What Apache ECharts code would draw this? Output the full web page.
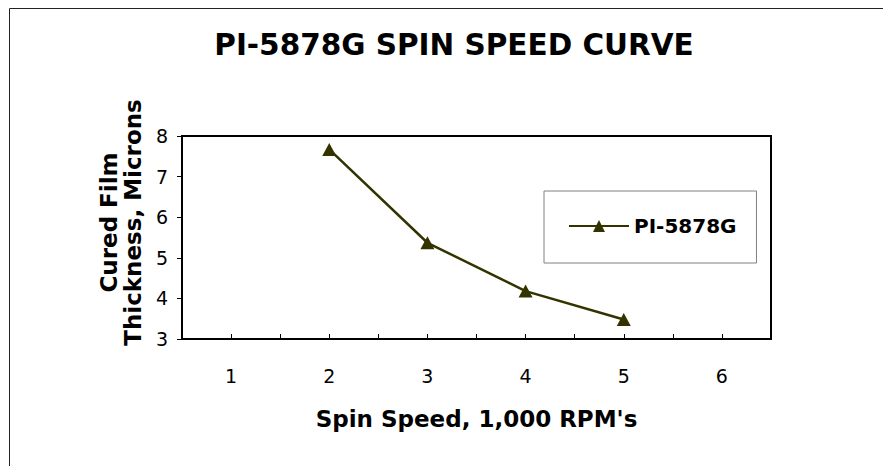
<!DOCTYPE html>
<html><head><meta charset="utf-8">
<script src="https://cdn.jsdelivr.net/npm/echarts@6/dist/echarts.min.js"></script>
<style>html,body{margin:0;padding:0;background:#fff}#c{width:883px;height:466px}</style>
</head><body><div id="c"></div>
<script>
const titleText = 'PI-5878G SPIN SPEED CURVE';
const seriesName = 'PI-5878G';
const spinSpeed = [2, 3, 4, 5];
const thickness = [7.67, 5.37, 4.18, 3.48];
const xTickLabels = ['1', '2', '3', '4', '5', '6'];
const yTickLabels = ['3', '4', '5', '6', '7', '8'];
const xAxisTitle = "Spin Speed, 1,000 RPM's";
const yAxisTitle = 'Cured Film\nThickness, Microns';

const FONT = 'DejaVu Sans';
const chart = echarts.init(document.getElementById('c'), null, {renderer: 'svg'});
chart.setOption({
  animation: false,
  backgroundColor: '#fff',
  title: {
    text: titleText, left: 454, top: 30, textAlign: 'center', padding: 0,
    textStyle: {fontFamily: FONT, fontWeight: 'bold', fontSize: 29.5, color: '#000'}
  },
  graphic: [{
    type: 'rect', z: -10, silent: true,
    shape: {x: 9.5, y: 8.5, width: 900, height: 500},
    style: {fill: 'none', stroke: '#222', lineWidth: 1}
  }],
  grid: {
    left: 182, right: 112, top: 136, bottom: 127,
    show: true, borderColor: '#000', borderWidth: 2, backgroundColor: 'transparent'
  },
  legend: {
    data: [seriesName], left: 544, top: 191,
    padding: [25, 20, 27, 24], itemWidth: 60, itemHeight: 15,
    borderColor: '#808080', borderWidth: 1, backgroundColor: '#fff',
    textStyle: {fontFamily: FONT, fontWeight: 'bold', fontSize: 20, color: '#000'}
  },
  xAxis: {
    type: 'value', min: 0.5, max: 6.5, interval: 0.5,
    name: xAxisTitle, nameLocation: 'middle', nameGap: 68,
    nameTextStyle: {fontFamily: FONT, fontWeight: 'bold', fontSize: 23, color: '#000'},
    axisLine: {show: true, lineStyle: {color: '#000', width: 2}},
    axisTick: {show: true, inside: true, length: 5, lineStyle: {color: '#000', width: 1}},
    axisLabel: {
      margin: 27, fontFamily: FONT, fontSize: 19, color: '#000',
      formatter: v => Number.isInteger(v) ? xTickLabels[v - 1] : ''
    },
    splitLine: {show: false}
  },
  yAxis: {
    type: 'value', min: 3, max: 8, interval: 1,
    name: yAxisTitle, nameLocation: 'middle', nameGap: 35,
    nameTextStyle: {fontFamily: FONT, fontWeight: 'bold', fontSize: 23, lineHeight: 24, color: '#000', align: 'center', padding: [0, 0, 0, 30]},
    axisLine: {show: true, lineStyle: {color: '#000', width: 2}},
    axisTick: {show: true, inside: false, length: 5, lineStyle: {color: '#000', width: 1}},
    axisLabel: {
      margin: 14, fontFamily: FONT, fontSize: 19, color: '#000',
      formatter: v => yTickLabels[v - 3]
    },
    splitLine: {show: false}
  },
  series: [{
    name: seriesName, type: 'line',
    data: spinSpeed.map((s, i) => [s, thickness[i]]),
    symbol: 'triangle', symbolSize: [14, 13],
    lineStyle: {color: '#333300', width: 2.5},
    itemStyle: {color: '#333300'}
  }]
});
</script></body></html>
